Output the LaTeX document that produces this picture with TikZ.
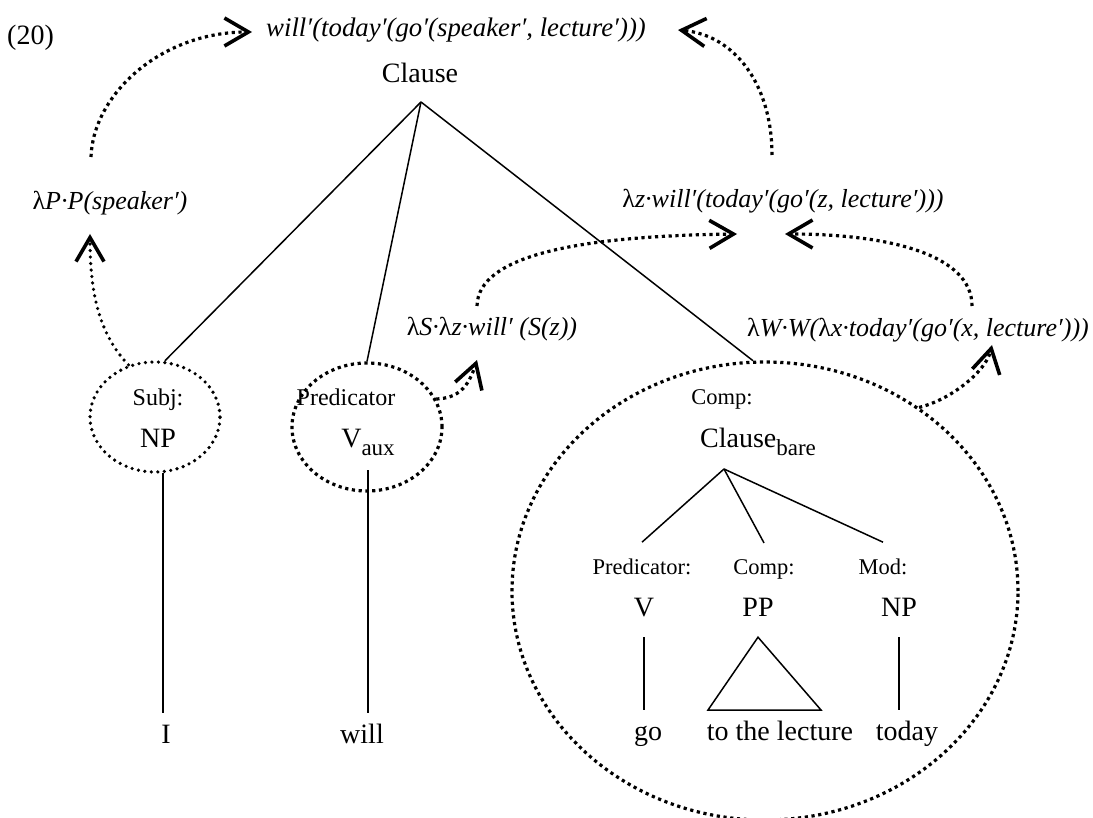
\documentclass[tikz,border=0pt]{standalone}
\usepackage{fontspec}
\setmainfont{Liberation Serif}
\usetikzlibrary{arrows.meta,shapes.geometric}

% type sizes
\newcommand\txtMain{\fontsize{28}{32}\selectfont}
\newcommand\txtLbl{\fontsize{22.5}{26}\selectfont}
\newcommand\txtLblB{\fontsize{24}{28}\selectfont}
\newcommand\txtSem{\fontsize{26}{30}\selectfont\itshape}
\newcommand\txtSemB{\fontsize{26.8}{30}\selectfont\itshape}
\newcommand\txtSub{\fontsize{23}{27}\selectfont}
\newcommand\lam{{\upshape λ}}
\newcommand\lowsub[1]{\lower8pt\hbox{\txtSub #1}}

\begin{document}
\begin{tikzpicture}[x=1pt,y=-1pt,
  txt/.style={inner sep=0pt, anchor=base},
  cat/.style={txt, font=\txtMain},
  word/.style={txt, font=\txtMain, text height=19pt, inner ysep=11pt},
  catC/.style={txt, font=\txtMain, text height=19pt, text depth=0pt, inner ysep=21pt},
  lblL/.style={txt, font=\txtLblB},
  lblC/.style={txt, font=\txtLbl, inner ysep=16pt},
  sem/.style={txt, font=\txtSem},
  tree/.style={line width=1.5pt},
  sqdot/.style={line width=3.2pt, dash pattern=on 3.2pt off 3.6pt},
  rdot/.style={line width=3.6pt, line cap=round, dash pattern=on 0pt off 6.5pt},
  chev/.style={-{Straight Barb[length=24pt,width=28pt,line width=3.6pt]}},
]
\useasboundingbox (0,0) rectangle (1093,818);

% example number
\node[cat, anchor=base west] (exno) at (7,45) {(20)};

% main clause
\node[cat] (clause) at (420,83) {Clause};
\coordinate (clJ) at (421,102);

% subject
\node[ellipse, draw, rdot, minimum width=130pt, minimum height=110pt, inner sep=0pt] (subjE) at (155,417) {};
\node[lblL] (subjL) at (158,406) {Subj:};
\node[cat] (np) at (158,447) {NP};
\node[word] (wI) at (166,743) {I};

% auxiliary
\node[ellipse, draw, sqdot, minimum width=150pt, minimum height=128pt, inner sep=0pt] (vauxE) at (367,427) {};
\node[lblL] (predL) at (346,406) {Predicator};
\node[cat, inner ysep=15pt] (vaux) at (368,447) {V\lowsub{aux}};
\node[word] (wWill) at (362,743) {will};

% bare clause complement
\node[ellipse, draw, sqdot, minimum width=506pt, minimum height=458pt, inner sep=0pt] (compE) at (765,591) {};
\node[lblL, font=\txtLbl] (compL) at (722,405) {Comp:};
\node[cat] (cbare) at (758,447) {Clause\lowsub{bare}};
\coordinate (cbJ) at (724,469);
\node[lblC] (predC) at (642,574) {Predicator:};
\node[lblC] (compC) at (764,574) {Comp:};
\node[lblC] (modC) at (883,574) {Mod:};
\node[catC] (vN) at (644,616) {V};
\node[catC] (ppN) at (758,616) {PP};
\node[catC] (npN) at (899,616) {NP};
\node[word] (wGo) at (648,740) {go};
\node[word] (wLect) at (780,740) {to the lecture};
\node[word] (wToday) at (907,740) {today};
\coordinate (triL) at (708,710);
\coordinate (triR) at (821,710);

% tree branches
\draw[tree] (clJ) -- (subjE.80);
\draw[tree] (clJ) -- (vauxE.90);
\draw[tree] (clJ) -- (compE.93);
\draw[tree] (subjE.-82) -- (subjE.-82 |- wI.north);
\draw[tree] (vaux.south) -- (vaux.south |- wWill.north);
\draw[tree] (cbJ) -- (predC.north);
\draw[tree] (cbJ) -- (compC.north);
\draw[tree] (cbJ) -- (modC.north);
\draw[tree] (vN.south) -- (vN.south |- wGo.north);
\draw[tree] (ppN.south) -- (triL) -- (triR) -- cycle;
\draw[tree] (npN.south) -- (npN.south |- wToday.north);

% semantic translations
\node[sem, font=\txtSemB] (f0) at (456,37) {will′(today′(go′(speaker′, lecture′)))};
\node[sem] (fP) at (110,210) {\lam P·P(speaker′)};
\node[sem] (fZ) at (783,208) {\lam z·will′(today′(go′(z, lecture′)))};
\node[sem] (fS) at (492,336) {\lam S·\lam z·will′ (S(z))};
\node[sem] (fW) at (918,337) {\lam W·W(\lam x·today′(go′(x, lecture′)))};

% ends of the composition arrows
\coordinate (sPtop) at (91,157);
\coordinate (sZtop) at (772,155);
\coordinate (sStop) at (477,306);
\coordinate (sWtop) at (972,306);
\coordinate (aTopL) at (252,32);
\coordinate (aTopR) at (678,30);
\coordinate (aP) at (90,234);
\coordinate (aZL) at (737,234);
\coordinate (aZR) at (785,234);
\coordinate (aS) at (477,360);
\coordinate (aW) at (992,345);

% composition arrows
\draw[rdot, chev] (subjE.117) .. controls (100,335) and (90,295) .. (aP);
\draw[sqdot, chev] (sPtop) .. controls (93,95) and (160,32) .. (aTopL);
\draw[sqdot, chev] (sZtop) .. controls (772,85) and (735,35) .. (aTopR);
\draw[sqdot, chev] (sStop) .. controls (478,255) and (580,236) .. (aZL);
\draw[sqdot, chev] (sWtop) .. controls (972,255) and (890,234) .. (aZR);
\draw[sqdot, chev] (vauxE.22) .. controls (458,398) and (468,388) .. (aS);
\draw[sqdot, chev] (compE.50) .. controls (950,400) and (986,372) .. (aW);
\end{tikzpicture}
\end{document}
